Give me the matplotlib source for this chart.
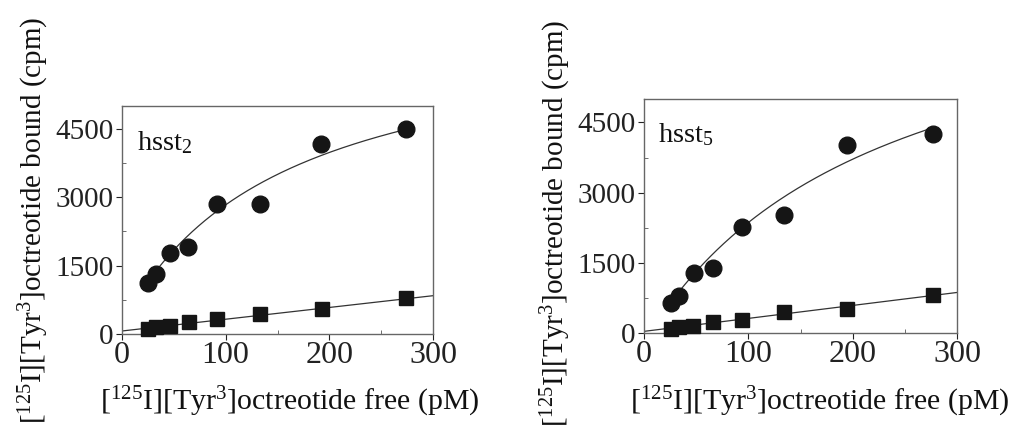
import numpy as np
import matplotlib
matplotlib.use("Agg")
import matplotlib.pyplot as plt
from matplotlib.ticker import MultipleLocator

plt.rcParams['font.family'] = ['Liberation Serif', 'DejaVu Serif']
plt.rcParams['mathtext.fontset'] = 'custom'
plt.rcParams['mathtext.rm'] = 'Liberation Serif'
plt.rcParams['mathtext.it'] = 'Liberation Serif:italic'

# ---- data ----
panel_names = ["hsst$_{2}$", "hsst$_{5}$"]

# hsst2
x2_total = [25, 33, 46, 64, 92, 133, 192, 274]
y2_total = [1110, 1310, 1775, 1915, 2850, 2850, 4170, 4490]
x2_ns = [25, 33, 46, 65, 92, 133, 193, 274]
y2_ns = [110, 150, 175, 255, 330, 435, 545, 780]

# hsst5
x5_total = [26, 34, 48, 66, 94, 134, 195, 277]
y5_total = [636, 780, 1280, 1390, 2255, 2530, 4015, 4250]
x5_ns = [26, 34, 47, 66, 94, 134, 195, 277]
y5_ns = [75, 125, 140, 230, 280, 450, 520, 810]

# fitted curve parameters: total = B*x/(K+x) + c ; ns = a + s*x
fit2_total = dict(B=6710, K=157, c=222)
fit5_total = dict(B=8306, K=225, c=-195)
fit2_ns = dict(a=66, s=2.58)
fit5_ns = dict(a=35, s=2.77)

xticks = [0, 100, 200, 300]
yticks = [0, 1500, 3000, 4500]

xlabel = r"[$^{125}$I][Tyr$^{3}$]octreotide free (pM)"
ylabel = r"[$^{125}$I][Tyr$^{3}$]octreotide bound (cpm)"

W, H = 1027, 447
fig = plt.figure(figsize=(W / 100, H / 100), dpi=100)

axes_px = [(122, 433, 106, 334), (644, 957, 99, 333)]
panels = [
    (x2_total, y2_total, x2_ns, y2_ns, fit2_total, fit2_ns),
    (x5_total, y5_total, x5_ns, y5_ns, fit5_total, fit5_ns),
]
xlabel_centers = [290, 820]
name_pos = [(0.048, 0.807), (0.045, 0.816)]

dark = '#151515'
for i, ((l, r, t, b), (xt, yt, xn, yn, ft, fn)) in enumerate(zip(axes_px, panels)):
    ax = fig.add_axes([l / W, (H - b) / H, (r - l) / W, (b - t) / H])
    ax.set_xlim(0, 300)
    ax.set_ylim(0, 5000)

    xc = np.linspace(min(xt), max(xt), 200)
    ax.plot(xc, ft['B'] * xc / (ft['K'] + xc) + ft['c'], color='#333333', lw=0.9, zorder=2)
    xl = np.linspace(0, 300, 50)
    ax.plot(xl, fn['a'] + fn['s'] * xl, color='#333333', lw=0.9, zorder=2)

    ax.plot(xt, yt, 'o', color=dark, ms=12, mec=dark, zorder=3, clip_on=False)
    ax.plot(xn, yn, 's', color=dark, ms=10.5, mec=dark, zorder=3, clip_on=False)

    ax.set_xticks(xticks)
    ax.set_yticks(yticks)
    ax.xaxis.set_minor_locator(MultipleLocator(50))
    ax.yaxis.set_minor_locator(MultipleLocator(750))
    ax.tick_params(axis='x', which='major', direction='out', length=4, width=0.8,
                   labelsize=23, pad=1, colors='#222222')
    ax.tick_params(axis='y', which='major', direction='out', length=4, width=0.8,
                   labelsize=21, pad=2, colors='#222222')
    ax.tick_params(which='minor', direction='in', length=3, width=0.6, colors='#555555')
    for sp in ax.spines.values():
        sp.set_color('#666666')
        sp.set_linewidth(1.0)

    ax.text(name_pos[i][0], name_pos[i][1], panel_names[i], transform=ax.transAxes,
            fontsize=20.5, ha='left', va='baseline', color='#111111')

    fig.text(xlabel_centers[i] / W, (H - 402) / H, xlabel, fontsize=21.5,
             ha='center', va='center', color='#111111')
    ax.set_ylabel(ylabel, fontsize=21, color='#111111')
    lab_x = [51, 573][i]
    ax.yaxis.set_label_coords((lab_x - l) / (r - l), 0.5 - [0.0, 0.03][i])

fig.savefig("out.png", dpi=100)
